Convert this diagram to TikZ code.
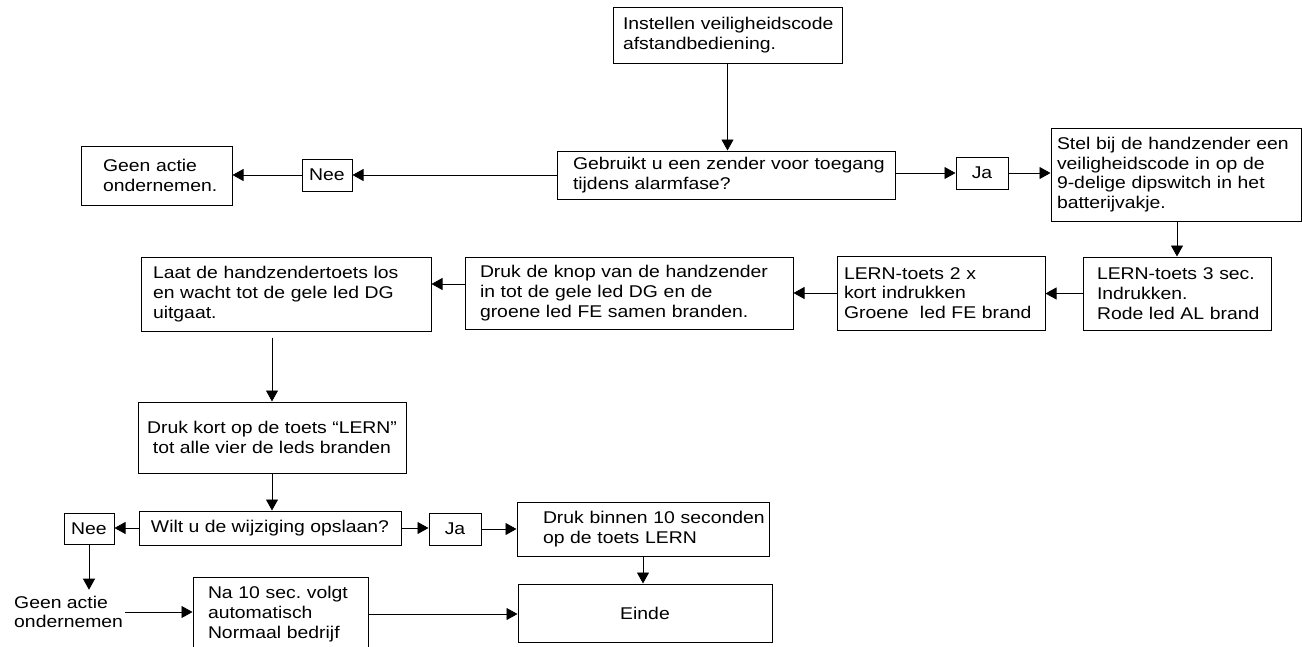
\documentclass[tikz,border=0pt]{standalone}
\usepackage{fontspec}
\setmainfont{Liberation Sans}[FakeStretch=1.14]
\usetikzlibrary{arrows.meta,positioning}

\begin{document}
\begin{tikzpicture}[x=1pt, y=-1pt,
  font=\fontsize{17}{19.7}\selectfont\frenchspacing,
  box/.style={draw, line width=1pt, rectangle, inner ysep=0pt},
  stap/.style={box, align=left},
  antw/.style={box, minimum width=50pt, minimum height=32pt, inner sep=0pt},
  pijl/.style={line width=0.8pt, -{Triangle[length=11pt,width=12pt]}}]

\useasboundingbox (0,0) rectangle (1302,646);

% bovenste rij
\node [stap, minimum width=229pt, minimum height=56pt, text width=209pt, inner xsep=10pt] (start) at (727.5,35)
  {\mbox{Instellen veiligheidscode}\\afstandbediening.};
\node [stap, minimum width=338pt, minimum height=48pt, text width=306pt, inner xsep=16pt] (vraag1) at (726,175)
  {\mbox{Gebruikt u een zender voor toegang}\\tijdens alarmfase?};
\node [antw] (nee1) at (327,175) {Nee};
\node [stap, minimum width=151pt, minimum height=59pt, text width=107pt, inner xsep=22pt] (geen1) at (156.5,175.5)
  {Geen actie\\\mbox{ondernemen.}};
\node [antw, minimum width=52pt] (ja1) at (982,173) {Ja};
\node [stap, minimum width=250pt, minimum height=93pt, text width=238pt, inner xsep=6pt] (stel) at (1176,174.5)
  {\mbox{Stel bij de handzender een}\\veiligheidscode in op de\\9-delige dipswitch in het\\batterijvakje.};

% tweede rij
\node [stap, minimum width=188pt, minimum height=73pt, text width=160pt, inner xsep=14pt] (lern3) at (1177,293.5)
  {LERN-toets 3 sec.\\Indrukken.\\\mbox{Rode led AL brand}};
\node [stap, minimum width=208pt, minimum height=74pt, text width=194pt, inner xsep=7pt] (lern2) at (941,293)
  {LERN-toets 2 x\\kort indrukken\\\mbox{Groene\ \ led FE brand}};
\node [stap, minimum width=328pt, minimum height=72pt, text width=298pt, inner xsep=15pt] (knop) at (629,293)
  {\mbox{Druk de knop van de handzender}\\in tot de gele led DG en de\\\mbox{groene led FE samen branden.}};
\node [stap, minimum width=290pt, minimum height=74pt, text width=266pt, inner xsep=12pt] (laat) at (286,294)
  {\mbox{Laat de handzendertoets los}\\en wacht tot de gele led DG\\uitgaat.};

% onderste deel
\node [box, align=center, minimum width=268pt, minimum height=71pt] (kort) at (272,437.5)
  {Druk kort op de toets ``LERN''\\tot alle vier de leds branden};
\node [box, align=center, minimum width=262pt, minimum height=34pt] (wilt) at (270,528)
  {Wilt u de wijziging opslaan?};
\node [antw, minimum height=31pt] (nee2) at (89,528.5) {Nee};
\node [antw, minimum width=52pt] (ja2) at (455,529) {Ja};
\node [anchor=west, align=left, inner sep=2pt] (geen2) at (12,612) {Geen actie\\ondernemen};
\node [stap, minimum width=175pt, minimum height=74pt, text width=145pt, inner xsep=15pt] (na10) at (280.5,614)
  {Na 10 sec. volgt\\automatisch\\Normaal bedrijf};
\node [stap, minimum width=252pt, minimum height=54pt, text width=200pt, inner xsep=26pt] (binnen) at (643,529)
  {\mbox{Druk binnen 10 seconden}\\op de toets LERN};
\node [box, minimum width=254pt, minimum height=58pt] (einde) at (645,613) {Einde};

\coordinate (knopuit) at ([yshift=9pt]knop.west);

\path[pijl]
  (start.south)        edge (start.south |- vraag1.north)
  (vraag1.west)        edge (vraag1.west -| nee1.east)
  (nee1.west)          edge (nee1.west -| geen1.east)
  (vraag1.east |- ja1) edge (ja1.west)
  (ja1.east)           edge (ja1.east -| stel.west)
  (stel.south -| lern3) edge (lern3.north)
  (lern3.west)         edge (lern3.west -| lern2.east)
  (lern2.west)         edge (lern2.west -| knop.east)
  (knopuit)            edge (knopuit -| laat.east)
  (kort.north |- laat.south) edge [shorten <=6pt] (kort.north)
  (kort.south)         edge (kort.south |- wilt.north)
  (wilt.west)          edge (wilt.west -| nee2.east)
  (nee2.south)         edge ([yshift=4pt]nee2.south |- geen2.north)
  (geen2.east)         edge (geen2.east -| na10.west)
  (wilt.east)          edge (wilt.east -| ja2.west)
  (ja2.east)           edge (ja2.east -| binnen.west)
  (binnen.south)       edge (binnen.south |- einde.north)
  (na10.east)          edge (na10.east -| einde.west);

\end{tikzpicture}
\end{document}
